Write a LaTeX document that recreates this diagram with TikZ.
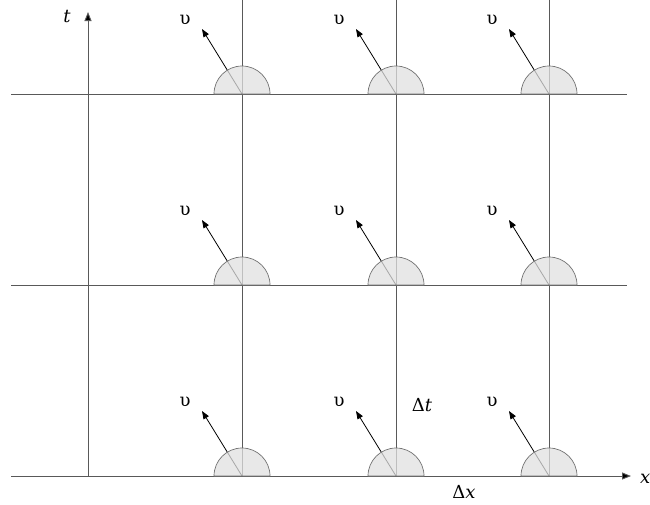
\documentclass[tikz,border=0pt]{standalone}
\usepackage{fontspec}
\setmainfont{DejaVu Serif}
\newfontfamily\tnr{DejaVu Serif}
\usetikzlibrary{arrows.meta}
\begin{document}
\begin{tikzpicture}[x=1pt,y=-1pt,
  gridline/.style={draw=black!65,line width=0.9pt},
  axisline/.style={draw=black!65,line width=0.9pt,-{Triangle[length=9pt,width=7pt,fill=black]}},
  velarrow/.style={draw=black,line width=0.8pt,-{Triangle[length=8pt,width=6pt]}},
  domecap/.style={fill=black!12,fill opacity=0.75,draw=black!55,line width=0.7pt},
  lbl/.style={font=\tnr\fontsize{18}{22}\selectfont,inner sep=0pt}]
\useasboundingbox (0,0) rectangle (650,504);
% coordinates
\coordinate (L1) at (11,94); \coordinate (R1) at (627,94);
\coordinate (L2) at (11,285); \coordinate (R2) at (627,285);
\coordinate (L3) at (11,476); \coordinate (R3) at (631,476);
\coordinate (T0) at (88,476); \coordinate (T1) at (88,12);
\foreach \c/\xx in {a/242,b/396,c/549}{
  \coordinate (\c top) at (\xx,0);
  \coordinate (\c bot) at (\xx,476);
}
% horizontal lines
\draw[gridline] (L1) -- (R1);
\draw[gridline] (L2) -- (R2);
\draw[axisline] (L3) -- (R3);
% t axis
\draw[axisline] (T0) -- (T1);
% vertical lines
\foreach \c in {a,b,c}{\draw[gridline] (\c top) -- (\c bot);}
% velocity arrows and caps
\foreach \c/\xx in {a/242,b/396,c/549}{
  \foreach \r/\yy in {1/94,2/285,3/476}{
    \coordinate (o\c\r) at (\xx,\yy);
    \coordinate (tip\c\r) at (\xx-40,\yy-65);
    \draw[velarrow] (o\c\r) -- (tip\c\r);
    \path[domecap] (\xx-28,\yy) arc[start angle=180,end angle=360,radius=28] -- cycle;
    \node[lbl] (u\c\r) at (\xx-57,\yy-74) {υ};
  }
}
% labels
\node[lbl] (tl) at (67,17) {\itshape t};
\node[lbl,anchor=west] (xl) at (640,479) {\itshape x};
\node[lbl] (dt) at (422,405) {Δ\textit{t}};
\node[lbl] (dx) at (464,492) {Δ\textit{x}};
\end{tikzpicture}
\end{document}
